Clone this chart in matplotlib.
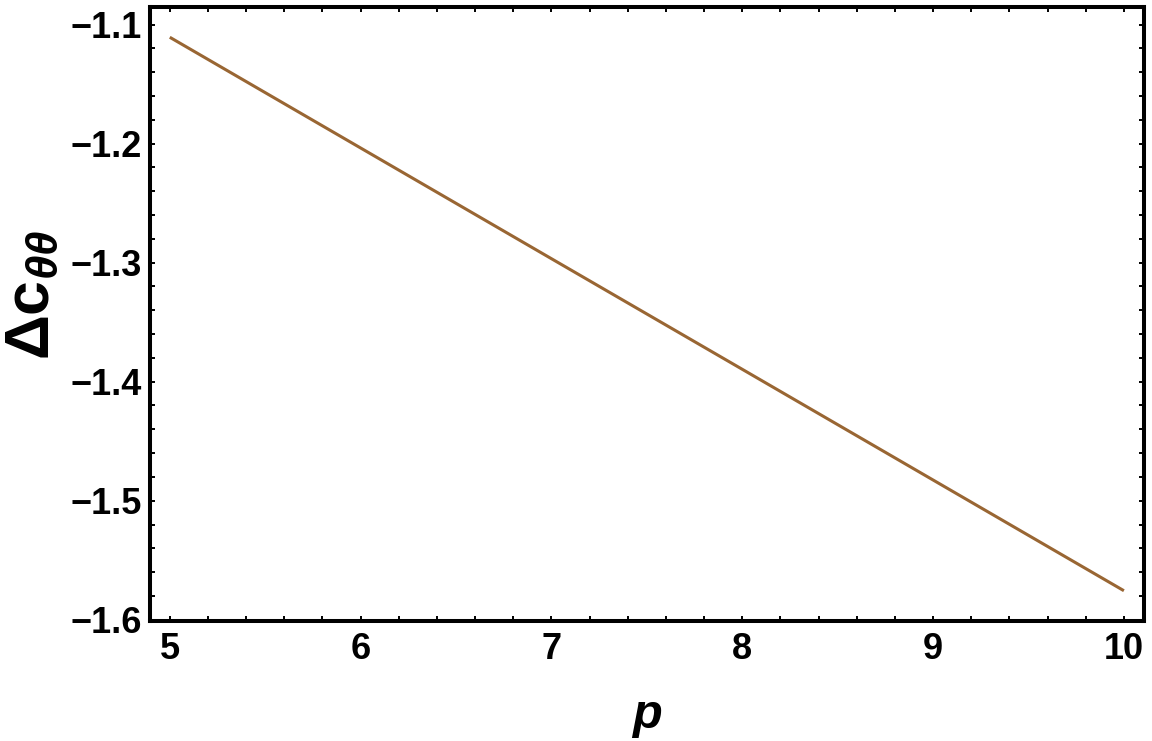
import matplotlib
matplotlib.use('Agg')
import matplotlib.pyplot as plt
from matplotlib.ticker import MultipleLocator

plt.rcParams['font.family'] = ['Liberation Sans', 'DejaVu Sans']
plt.rcParams['font.weight'] = 'bold'
plt.rcParams['mathtext.fontset'] = 'custom'
plt.rcParams['mathtext.rm'] = 'Liberation Sans:bold'
plt.rcParams['mathtext.it'] = 'Liberation Sans:bold:italic'
plt.rcParams['mathtext.bf'] = 'Liberation Sans:bold'

# values
p_vals = [5, 6, 7, 8, 9, 10]
dc_vals = [-1.1107, -1.2037, -1.2967, -1.3896, -1.4826, -1.5756]

x_ticks = [5, 6, 7, 8, 9, 10]
y_ticks = [-1.6, -1.5, -1.4, -1.3, -1.2, -1.1]
y_ticklabels = ['\u22121.6', '\u22121.5', '\u22121.4', '\u22121.3', '\u22121.2', '\u22121.1']

fig = plt.figure(figsize=(11.52, 7.41), dpi=100)
ax = fig.add_axes([0.130, 0.162, 0.863, 0.829])

ax.plot(p_vals, dc_vals, color='#996633', lw=2.2, solid_capstyle='butt')

ax.set_xlim(4.895, 10.105)
ax.set_ylim(-1.601, -1.085)

ax.set_xticks(x_ticks)
ax.set_xticklabels([str(t) for t in x_ticks])
ax.set_yticks(y_ticks)
ax.set_yticklabels(y_ticklabels)
ax.xaxis.set_minor_locator(MultipleLocator(0.2))
ax.yaxis.set_minor_locator(MultipleLocator(0.02))

for s in ax.spines.values():
    s.set_linewidth(2.9)

ax.tick_params(which='both', direction='in', top=True, right=True,
               labelsize=26, width=1.4, color='black')
ax.tick_params(axis='x', which='both', length=3.8, pad=8)
ax.tick_params(axis='y', which='both', length=3.8, pad=6)
for lab in ax.get_xticklabels() + ax.get_yticklabels():
    lab.set_fontweight('bold')

ax.set_xlabel(r'$p$', fontsize=35, labelpad=20)
ax.set_ylabel(r'$\Delta\mathrm{c}_{\theta\theta}$', fontsize=45, labelpad=6)
ax.yaxis.set_label_coords(-0.088, 0.53)

fig.savefig('out.png', dpi=100)
